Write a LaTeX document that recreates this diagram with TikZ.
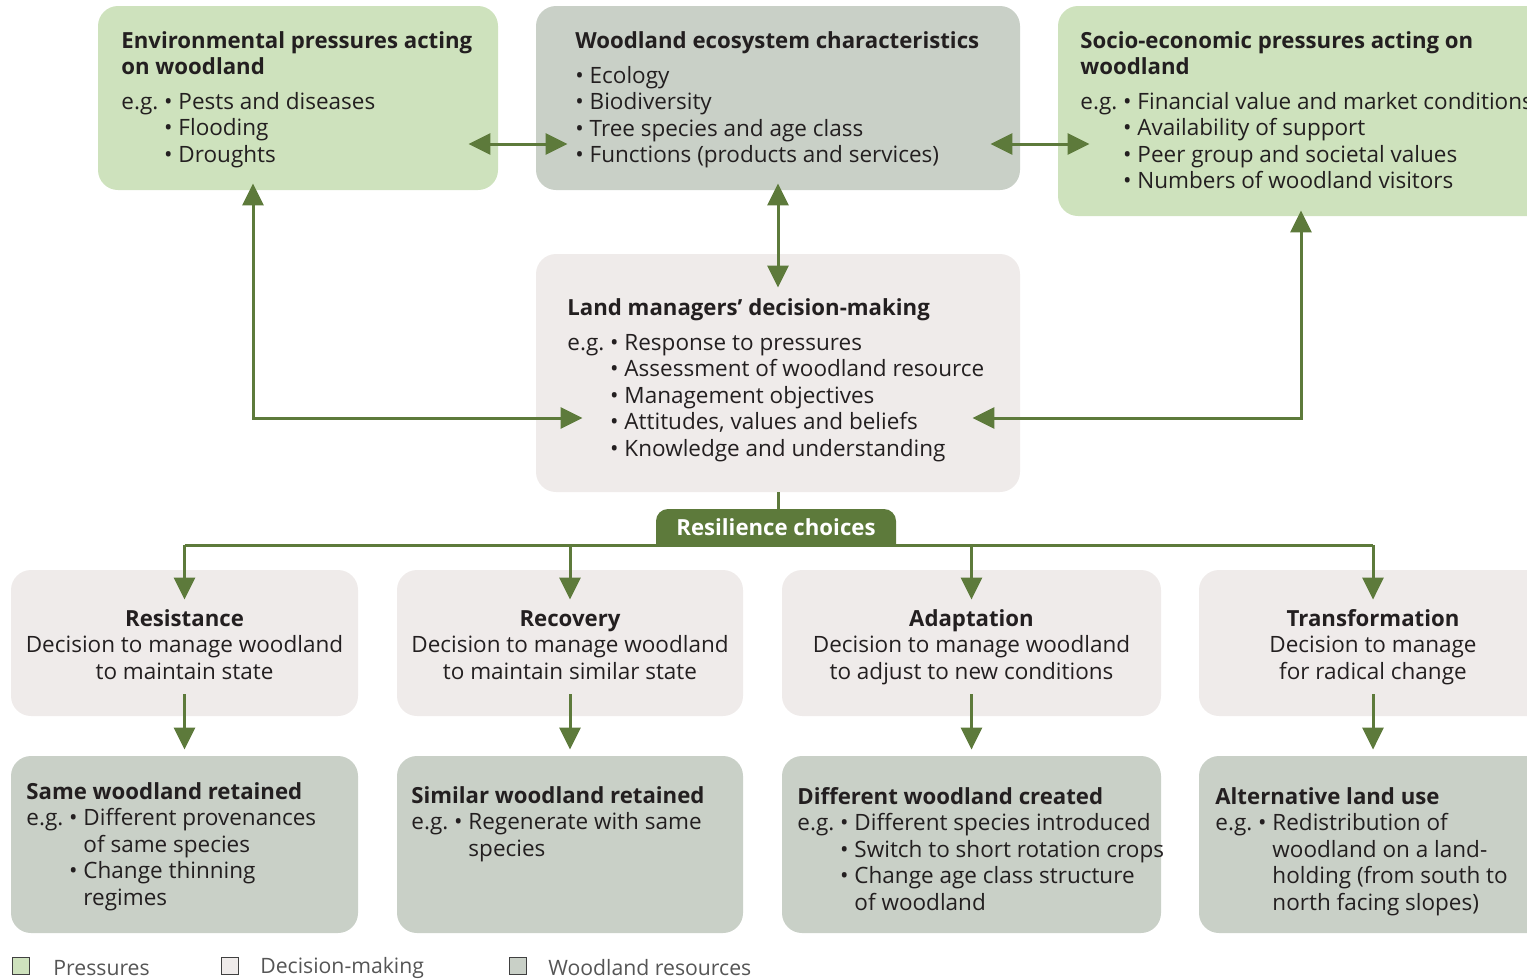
\documentclass[tikz,border=0pt]{standalone}
\usepackage{fontspec}
\setmainfont{Open Sans}
\usetikzlibrary{arrows.meta}
\definecolor{pgreen}{HTML}{CEE2BD}
\definecolor{wgrey}{HTML}{C9D0C7}
\definecolor{dgrey}{HTML}{EFEBEA}
\definecolor{dkgreen}{HTML}{5D7A3B}
\definecolor{txt}{HTML}{231F20}
\definecolor{legtxt}{HTML}{555555}
\newcommand{\fs}{\fontsize{11.25}{13.25}\selectfont}
\newcommand{\fsl}{\fontsize{10.6}{13.25}\selectfont}
\newcommand{\tb}[1]{{\fontsize{11.1}{13.25}\selectfont\bfseries #1}}
\newcommand{\bul}{\textbullet}
\tikzset{
  box/.style={rounded corners=10pt, inner sep=0pt, draw=none},
  pbox/.style={box, fill=pgreen},
  wbox/.style={box, fill=wgrey},
  dbox/.style={box, fill=dgrey},
  txtnode/.style={anchor=base west, inner sep=0pt, text=txt, font=\fs},
  ctxt/.style={anchor=base, inner sep=0pt, text=txt, font=\fs},
  arr/.style={draw=dkgreen, line width=1.5pt, arrows={-Triangle[length=11pt,width=10.5pt]}},
  darr/.style={draw=dkgreen, line width=1.5pt, arrows={Triangle[length=11pt,width=10.5pt]-Triangle[length=11pt,width=10.5pt]}},
  ln/.style={draw=dkgreen, line width=1.5pt},
  legsq/.style={draw=black!75, line width=0.8pt, minimum width=8.5pt, minimum height=8.5pt, inner sep=0pt},
  legtext/.style={anchor=west, inner sep=0pt, text=legtxt, font=\fsl},
}
\begin{document}
\begin{tikzpicture}[x=0.5pt,y=-0.5pt]
\useasboundingbox (0,0) rectangle (1527,980);
\clip (0,0) rectangle (1527,980);
% boxes
\node[pbox, minimum width=200pt, minimum height=92pt] (env) at (298,98) {};
\node[wbox, minimum width=242pt, minimum height=92pt] (eco) at (778,98) {};
\node[pbox, minimum width=251pt, minimum height=105pt] (soc) at (1309,111) {};
\node[dbox, minimum width=242pt, minimum height=119pt] (land) at (778,373) {};
\node[dbox, minimum width=173.5pt, minimum height=73pt] (r1) at (184.5,643) {};
\node[dbox, minimum width=173pt, minimum height=73pt] (r2) at (570,643) {};
\node[dbox, minimum width=189.5pt, minimum height=73pt] (r3) at (971.5,643) {};
\node[dbox, minimum width=174pt, minimum height=73pt] (r4) at (1373,643) {};
\node[wbox, minimum width=173.5pt, minimum height=88.5pt] (s1) at (184.5,844.5) {};
\node[wbox, minimum width=173pt, minimum height=88.5pt] (s2) at (570,844.5) {};
\node[wbox, minimum width=189.5pt, minimum height=88.5pt] (s3) at (971.5,844.5) {};
\node[wbox, minimum width=174pt, minimum height=88.5pt] (s4) at (1373,844.5) {};
% texts top row
\node[txtnode] (envt) at (121,48) {\begin{tabular}[t]{@{}l@{}}\tb{Environmental pressures acting}\\\tb{on woodland}\end{tabular}};
\node[txtnode] (envl) at (121,109) {\begin{tabular}[t]{@{}l@{\ }l@{}}e.g. & \bul\ Pests and diseases\\ & \bul\ Flooding\\ & \bul\ Droughts\end{tabular}};
\node[txtnode] (ecot) at (575,48) {\tb{Woodland ecosystem characteristics}};
\node[txtnode] (ecol) at (575,83) {\begin{tabular}[t]{@{}l@{}}\bul\ Ecology\\ \bul\ Biodiversity\\ \bul\ Tree species and age class\\ \bul\ Functions (products and services)\end{tabular}};
\node[txtnode] (soct) at (1080,48) {\begin{tabular}[t]{@{}l@{}}\tb{Socio-economic pressures acting on}\\\tb{woodland}\end{tabular}};
\node[txtnode] (socl) at (1080,109) {\begin{tabular}[t]{@{}l@{\ }l@{}}e.g. & \bul\ Financial value and market conditions\\ & \bul\ Availability of support\\ & \bul\ Peer group and societal values\\ & \bul\ Numbers of woodland visitors\end{tabular}};
\node[txtnode] (landt) at (567,315) {\tb{Land managers’ decision-making}};
\node[txtnode] (landl) at (567,350) {\begin{tabular}[t]{@{}l@{\ }l@{}}e.g. & \bul\ Response to pressures\\ & \bul\ Assessment of woodland resource\\ & \bul\ Management objectives\\ & \bul\ Attitudes, values and beliefs\\ & \bul\ Knowledge and understanding\end{tabular}};
% row 2 texts
\node[ctxt] (r1t) at (184.5,626) {\begin{tabular}[t]{@{}c@{}}\tb{Resistance}\\Decision to manage woodland\\to maintain state\end{tabular}};
\node[ctxt] (r2t) at (570,626) {\begin{tabular}[t]{@{}c@{}}\tb{Recovery}\\Decision to manage woodland\\to maintain similar state\end{tabular}};
\node[ctxt] (r3t) at (971.5,626) {\begin{tabular}[t]{@{}c@{}}\tb{Adaptation}\\Decision to manage woodland\\to adjust to new conditions\end{tabular}};
\node[ctxt] (r4t) at (1373,626) {\begin{tabular}[t]{@{}c@{}}\tb{Transformation}\\Decision to manage\\for radical change\end{tabular}};
% row 3 texts
\node[txtnode] (s1t) at (26,799) {\begin{tabular}[t]{@{}l@{\ }l@{\ }l@{}}\multicolumn{3}{@{}l@{}}{\tb{Same woodland retained}}\\e.g. & \bul & Different provenances\\ & & of same species\\ & \bul & Change thinning\\ & & regimes\end{tabular}};
\node[txtnode] (s2t) at (411,803) {\begin{tabular}[t]{@{}l@{\ }l@{\ }l@{}}\multicolumn{3}{@{}l@{}}{\tb{Similar woodland retained}}\\e.g. & \bul & Regenerate with same\\ & & species\end{tabular}};
\node[txtnode] (s3t) at (797,804) {\begin{tabular}[t]{@{}l@{\ }l@{\ }l@{}}\multicolumn{3}{@{}l@{}}{\tb{Different woodland created}}\\e.g. & \bul & Different species introduced\\ & \bul & Switch to short rotation crops\\ & \bul & Change age class structure\\ & & of woodland\end{tabular}};
\node[txtnode] (s4t) at (1215,804) {\begin{tabular}[t]{@{}l@{\ }l@{\ }l@{}}\multicolumn{3}{@{}l@{}}{\tb{Alternative land use}}\\e.g. & \bul & Redistribution of\\ & & woodland on a land-\\ & & holding (from south to\\ & & north facing slopes)\end{tabular}};
% resilience tab
\fill[dkgreen] (656,545) [rounded corners=6pt] -- (656,509) -- (896,509) [sharp corners] -- (896,545) -- cycle;
\node[inner sep=0pt, text=white, minimum width=120pt, minimum height=18pt] (tab) at (776,527) {\tb{Resilience choices}};
% connectors
\draw[darr] ([shift={(-30,46)}]env.east) -- ([shift={(32,46)}]eco.west);
\draw[darr] ([shift={(-30,46)}]eco.east) -- ([shift={(32,33)}]soc.west);
\draw[darr] ([yshift=3.5pt]eco.south) -- ([yshift=-17pt]land.north);
\draw[darr] ([shift={(-45,-7)}]env.south) |- ([shift={(47,45)}]land.west);
\draw[darr] ([shift={(-8,-6)}]soc.south) |- ([shift={(-48,45)}]land.east);
\draw[ln] (land.south) -- (land.south |- tab.north);
\draw[ln] (r1.north |- tab.south) -- (r4.north |- tab.south);
\foreach \r in {r1,r2,r3,r4}{
  \draw[arr] (\r.north |- tab.south) -- ([yshift=-15pt]\r.north);
}
\foreach \r/\s in {r1/s1,r2/s2,r3/s3,r4/s4}{
  \draw[arr] ([yshift=11pt]\r.south) -- ([yshift=3pt]\s.north);
}
% legend
\node[legsq, fill=pgreen] (lg1) at (21,966) {};
\node[legtext] (lt1) at (53,968) {Pressures};
\node[legsq, fill=dgrey] (lg2) at (230,966) {};
\node[legtext] (lt2) at (260,968) {Decision-making};
\node[legsq, fill=wgrey] (lg3) at (518,966) {};
\node[legtext] (lt3) at (548,968) {Woodland resources};
\end{tikzpicture}
\end{document}
